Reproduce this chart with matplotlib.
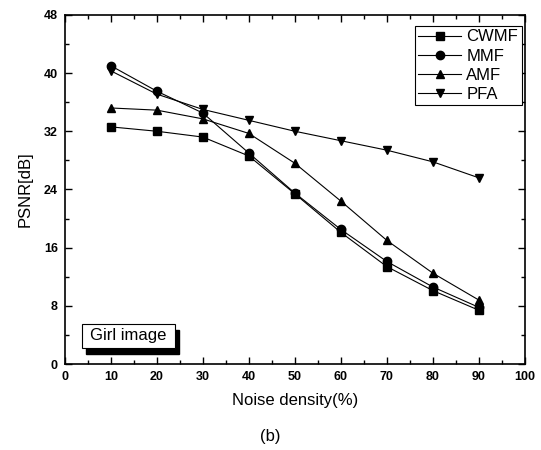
import matplotlib.pyplot as plt
from matplotlib.patches import Rectangle
from matplotlib.ticker import MultipleLocator

plt.rcParams['font.family'] = ['Liberation Sans', 'DejaVu Sans']

# dados
densidade = [10, 20, 30, 40, 50, 60, 70, 80, 90]
cwmf = [32.6, 32.0, 31.2, 28.6, 23.4, 18.1, 13.4, 10.1, 7.4]
mmf = [41.0, 37.5, 34.5, 29.0, 23.5, 18.5, 14.1, 10.6, 7.8]
amf = [35.2, 34.9, 33.7, 31.7, 27.6, 22.4, 17.0, 12.5, 8.8]
pfa = [40.3, 37.1, 35.0, 33.5, 32.0, 30.7, 29.4, 27.8, 25.6]

nomes = ["CWMF", "MMF", "AMF", "PFA"]
series = [cwmf, mmf, amf, pfa]
marcadores = ["s", "o", "^", "v"]

fig = plt.figure(figsize=(5.41, 4.5), dpi=100)
ax = fig.add_axes([0.120, 0.191, 0.850, 0.776])

for nome, valores, m in zip(nomes, series, marcadores):
    ax.plot(densidade, valores, color="black", lw=0.8, marker=m, ms=6,
            markerfacecolor="black", markeredgecolor="black", label=nome)

ax.set_xlim(0, 100)
ax.set_ylim(0, 48)
ax.xaxis.set_major_locator(MultipleLocator(10))
ax.xaxis.set_minor_locator(MultipleLocator(5))
ax.yaxis.set_major_locator(MultipleLocator(8))
ax.yaxis.set_minor_locator(MultipleLocator(4))
ax.tick_params(which="both", direction="in", top=True, right=True, width=1)
ax.tick_params(which="major", length=5, labelsize=9, pad=5)
ax.tick_params(which="minor", length=3)
for lbl in ax.get_xticklabels() + ax.get_yticklabels():
    lbl.set_fontweight("bold")
for s in ax.spines.values():
    s.set_linewidth(1.2)

ax.set_xlabel("Noise density(%)", fontsize=12, labelpad=7)
ax.set_ylabel("PSNR[dB]", fontsize=12, labelpad=8)

leg = ax.legend(loc="upper right", bbox_to_anchor=(0.993, 0.968),
                borderaxespad=0, fontsize=12, fancybox=False,
                handlelength=2.6, handletextpad=0.3, labelspacing=0.25,
                borderpad=0.2, framealpha=1)
leg.get_frame().set_edgecolor("black")
leg.get_frame().set_linewidth(0.8)

# caixa "Girl image" com sombra
ax.add_patch(Rectangle((0.046, 0.029), 0.202, 0.069, transform=ax.transAxes,
                       facecolor="black", edgecolor="black", zorder=5))
ax.add_patch(Rectangle((0.037, 0.046), 0.202, 0.069, transform=ax.transAxes,
                       facecolor="white", edgecolor="black", lw=0.8, zorder=6))
ax.text(0.138, 0.081, "Girl image", transform=ax.transAxes, fontsize=12,
        ha="center", va="center", zorder=7)

fig.text(0.5, 0.031, "(b)", fontsize=12, ha="center", va="center")

plt.savefig("out.png", dpi=100)
